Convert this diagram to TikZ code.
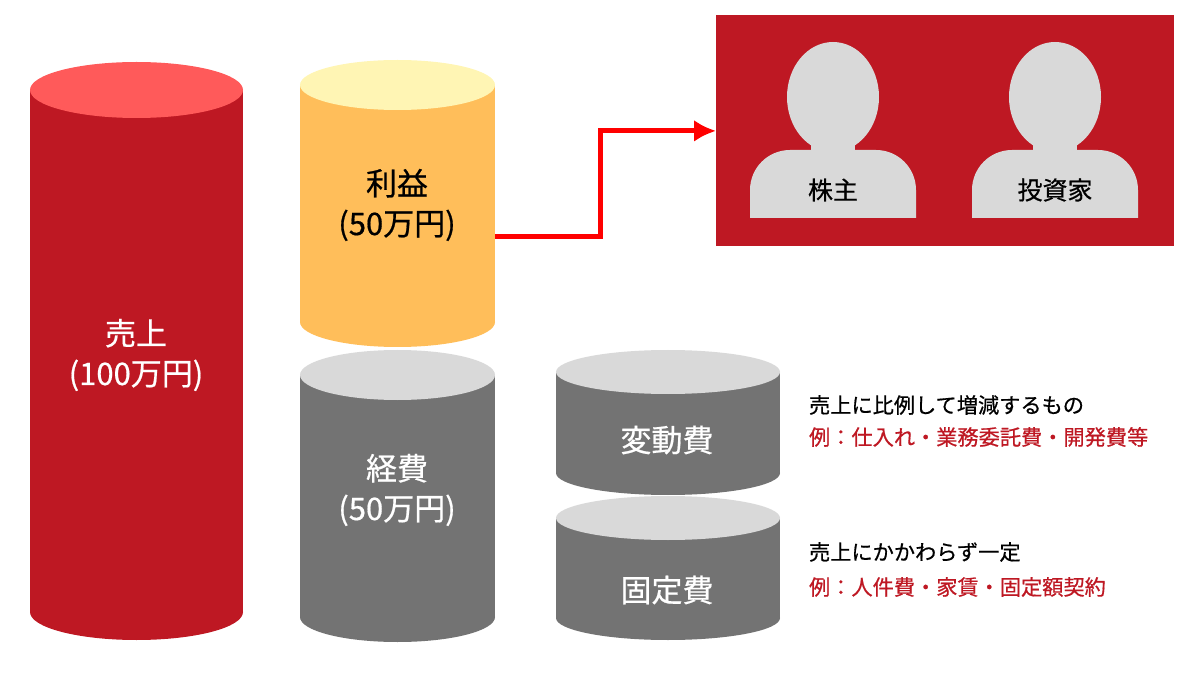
\documentclass[tikz,border=0pt]{standalone}
\usepackage{fontspec}
\setmainfont{Noto Sans CJK JP}[FakeBold=0.6]
\usetikzlibrary{positioning,arrows.meta}
\definecolor{salesred}{HTML}{BE1823}
\definecolor{salestop}{HTML}{FF5A5A}
\definecolor{profbody}{HTML}{FFBE5A}
\definecolor{proftop}{HTML}{FFF5B4}
\definecolor{costbody}{HTML}{737373}
\definecolor{costtop}{HTML}{D9D9D9}
\tikzset{big/.style={align=center, font=\fontsize{15.5}{20}\selectfont},
  small/.style={anchor=west, font=\fontsize{10.6}{13}\selectfont},
  person/.style={fill=costtop}}
% cylinder: x1, x2, top centre y, bottom y, y radius, body, top
\newcommand\drumcyl[7]{%
  \fill[#6] (#1,#3) rectangle (#2,#4);
  \fill[#6] ({(#1+#2)/2},#4) ellipse [x radius={(#2-#1)/2}, y radius=#5];
  \fill[#7] ({(#1+#2)/2},#3) ellipse [x radius={(#2-#1)/2}, y radius=#5];}
\newcommand\headicon[1]{%
  \fill[person] (#1-83,218) -- (#1-83,190) arc[start angle=180,end angle=270,radius=40] -- (#1+43,150) arc[start angle=270,end angle=360,radius=40] -- (#1+83,218) -- cycle;
  \fill[person] (#1-22,130) rectangle (#1+22,160);
  \fill[person] (#1,97) ellipse [x radius=46, y radius=55];}
\begin{document}
\begin{tikzpicture}[x=0.5pt,y=-0.5pt]
    \useasboundingbox (0,0) rectangle (1200,700);
    \drumcyl{30}{243}{90}{612}{28}{salesred}{salestop}
    \drumcyl{300}{495}{85}{322}{25}{profbody}{proftop}
    \drumcyl{300}{495}{375}{617}{25}{costbody}{costtop}
    \drumcyl{556}{780}{372}{473}{22}{costbody}{costtop}
    \drumcyl{556}{780}{518}{618}{22}{costbody}{costtop}

    \node[big, text=white] at (136,355) (sales) {売上\\(100万円)};
    \node[big] at (397,205) (profit) {利益\\(50万円)};
    \node[big, text=white] at (397,490) (cost) {経費\\(50万円)};
    \node[big, text=white] at (667,440) (var) {変動費};
    \node[big, text=white] at (667,590) (fix) {固定費};
    \coordinate (pr) at (495,237);

    \node[fill=salesred, minimum width=229pt, minimum height=115.5pt, anchor=north west, inner sep=0] at (716,15) (inv) {};
    \headicon{833}
    \headicon{1055}
    \node[big, font=\fontsize{12.5}{15}\selectfont] at (833,190) (share) {株主};
    \node[big, font=\fontsize{12.5}{15}\selectfont] at (1055,190) (investor) {投資家};

    \draw[red, line width=2.5pt, -{Latex[length=11pt,width=11pt]}] (pr) -- ++(105,0) |- (inv.west);

    % labels à droite
    \node[small] at (802,405) (vtxt) {売上に比例して増減するもの};
    \node[small, salesred] at (802,437) (vex) {例：仕入れ・業務委託費・開発費等};
    \node[small] at (802,552) (ftxt) {売上にかかわらず一定};
    \node[small, salesred] at (802,587) (fex) {例：人件費・家賃・固定額契約};
\end{tikzpicture}
\end{document}
